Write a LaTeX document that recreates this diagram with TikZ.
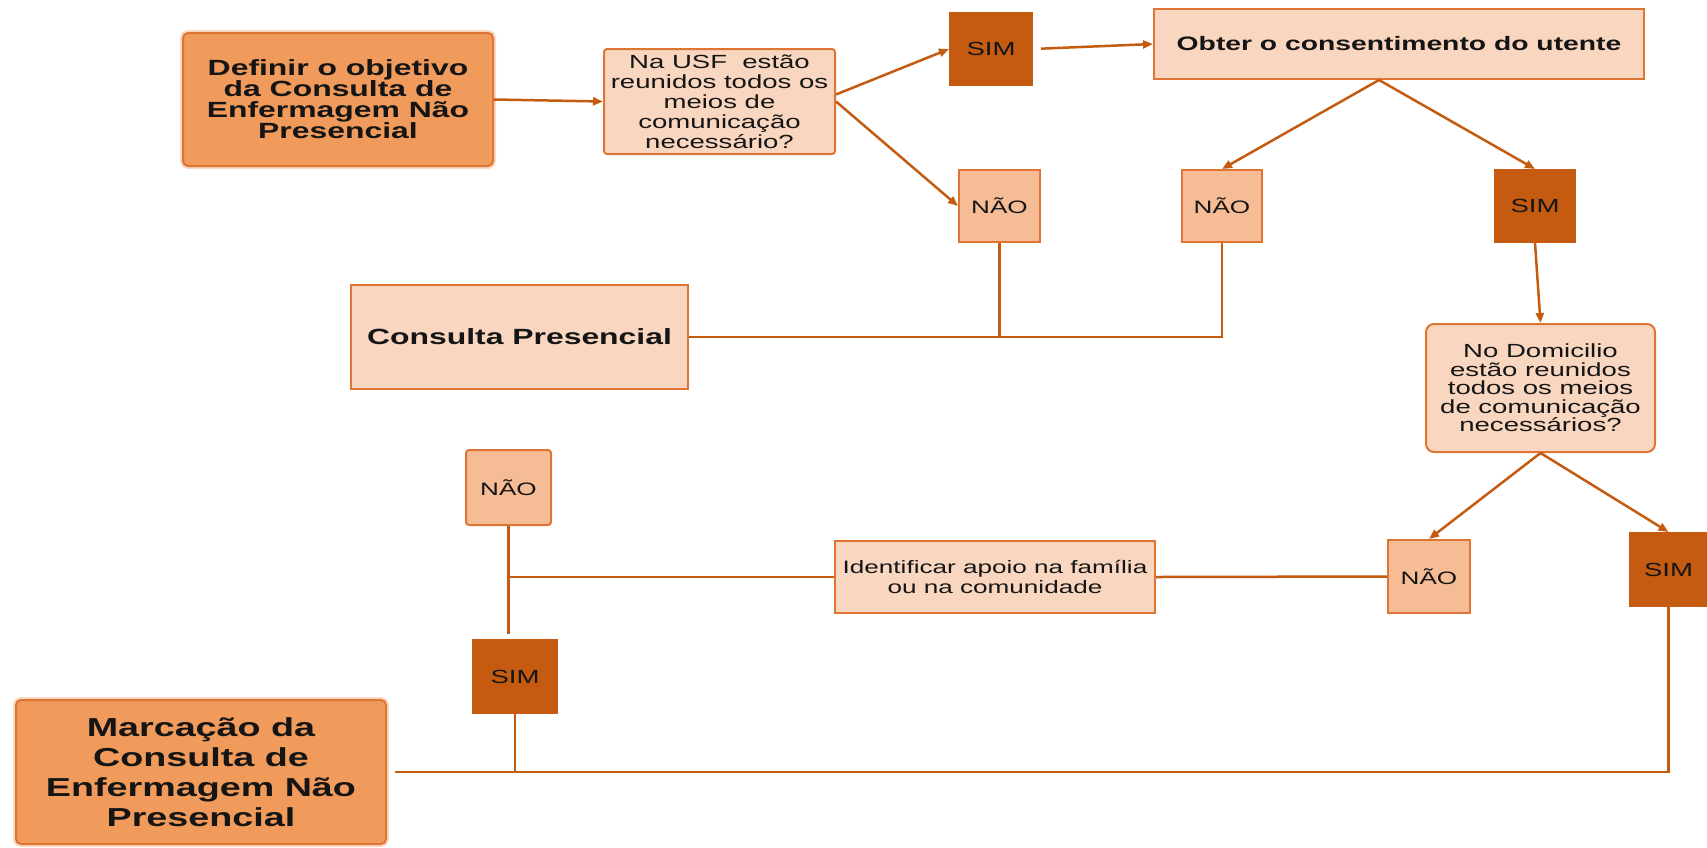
\documentclass[tikz,border=0pt]{standalone}
\usepackage{fontspec}
\setmainfont[FakeStretch=1.45]{Liberation Sans}
\usetikzlibrary{arrows.meta,calc}

\definecolor{rust}{HTML}{C55A11}
\definecolor{edge}{HTML}{DE7535}
\definecolor{peach}{HTML}{F9D6BF}
\definecolor{salmon}{HTML}{F5BC96}
\definecolor{tangerine}{HTML}{F09A5B}
\definecolor{halo}{HTML}{FAD9C2}
\definecolor{ink}{HTML}{151515}

\tikzset{
  wh/.style 2 args={minimum width=#1pt, minimum height=#2pt},
  box/.style={draw=edge, line width=2pt, text=ink, align=center, inner sep=0pt,
              font=\fontsize{18}{20}\selectfont},
  lightbox/.style={box, fill=peach},
  nobox/.style={box, fill=salmon, font=\fontsize{18}{20}\selectfont},
  yesbox/.style={box, fill=rust, draw=rust, font=\fontsize{19}{20}\selectfont},
  keybox/.style={box, fill=tangerine, draw=edge, rounded corners=5pt,
                 preaction={draw=halo, line width=6pt},
                 font=\bfseries\fontsize{22}{21}\selectfont},
  flow/.style={draw=rust, line width=2.5pt, -{Triangle[length=10pt,width=8pt]}},
  link/.style={draw=rust, line width=2.5pt},
}

\begin{document}
\begin{tikzpicture}[x=1pt,y=-1pt]
\useasboundingbox (0,0) rectangle (1707,847);

% boxes
\node[keybox, wh={310}{133}] (define) at (338,99.5)
  {Definir o objetivo\\da Consulta de\\Enfermagem Não\\Presencial};
\node[lightbox, rounded corners=3pt, wh={231}{105}, font=\fontsize{19}{20}\selectfont] (usf) at (719.5,101.5)
  {Na USF\ \ estão\\reunidos todos os\\meios de\\comunicação\\necessário?};
\node[yesbox, wh={82}{72}] (simA) at (991,49) {SIM};
\node[lightbox, wh={490}{70}, font=\bfseries\fontsize{19.5}{22}\selectfont] (consent) at (1399,44)
  {Obter o consentimento do utente};
\node[nobox, wh={81}{72}] (naoA) at (999.5,206) {NÃO};
\node[nobox, wh={80}{72}] (naoB) at (1222,206) {NÃO};
\node[yesbox, wh={80}{72}] (simB) at (1535,206) {SIM};
\node[lightbox, wh={337}{104}, font=\bfseries\fontsize{22}{24}\selectfont] (presencial) at (519.5,337)
  {Consulta Presencial};
\node[lightbox, rounded corners=8pt, wh={229}{128}, font=\fontsize{19}{18.5}\selectfont] (domicilio) at (1540.5,388)
  {No Domicilio\\estão reunidos\\todos os meios\\de comunicação\\necessários?};
\node[nobox, rounded corners=3pt, wh={85}{75}] (naoC) at (508.5,487.5) {NÃO};
\node[lightbox, wh={320}{72}, font=\fontsize{18}{20}\selectfont] (apoio) at (995,577)
  {Identificar apoio na família\\ou na comunidade};
\node[nobox, wh={82}{73}] (naoD) at (1429,576.5) {NÃO};
\node[yesbox, wh={77}{73}] (simC) at (1668.5,569.5) {SIM};
\node[yesbox, wh={84}{73}] (simD) at (515,676.5) {SIM};
\node[keybox, wh={370}{144}, font=\bfseries\fontsize{26}{30}\selectfont] (marcacao) at (201,772)
  {Marcação da\\Consulta de\\Enfermagem Não\\Presencial};

% connectors
\draw[flow] (define.east) -- (usf.west);
\draw[flow] ([yshift=7pt]usf.east) -- (simA.west);
\draw[flow] (usf.east) -- (naoA.west);
\draw[flow, shorten <=8pt] (simA.east) -- (consent.west);
\draw[flow] ([xshift=-20pt]consent.south) -- (naoB.north);
\draw[flow] ([xshift=-20pt]consent.south) -- (simB.north);
\draw[flow] (simB.south) -- (domicilio.north);

\draw[link] (presencial.east) -- (naoB |- presencial.east) -- (naoB.south);
\draw[link] (naoA.south) -- (naoA |- presencial.east);

\draw[flow] (domicilio.south) -- (naoD.north);
\draw[flow] (domicilio.south) -- (simC.north);

\draw[link] (naoD.west) -- (apoio.east);
\coordinate (split) at (naoC |- apoio.west);
\draw[link] (apoio.west) -- (split);
\draw[link] (naoC.south) -- ([yshift=5pt]naoC |- simD.north);
\draw[link] (simD.south) -- (simD |- marcacao.east);
\draw[link, shorten <=8pt] (marcacao.east) -- (simC |- marcacao.east) -- (simC.south);
\end{tikzpicture}
\end{document}
